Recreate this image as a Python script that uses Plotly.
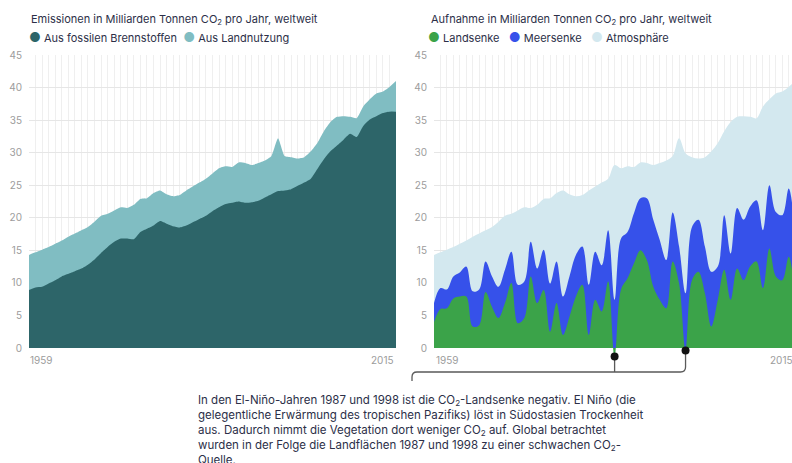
import plotly.graph_objects as go

W, H = 792, 463

years = list(range(1959, 2016))

# Emissionen (Gt CO2)
fossil = [8.9, 9.3, 9.4, 9.9, 10.4, 11.0, 11.4, 11.8, 12.2, 12.8,
          13.6, 14.6, 15.5, 16.3, 16.8, 16.8, 16.7, 17.8, 18.3, 18.8,
          19.5, 19.1, 18.7, 18.5, 18.8, 19.3, 19.8, 20.3, 21.0, 21.6,
          22.1, 22.3, 22.5, 22.3, 22.4, 22.6, 23.1, 23.6, 24.1, 24.2,
          24.4, 24.9, 25.4, 26.0, 27.5, 29.0, 30.2, 31.1, 32.0, 32.9,
          32.4, 34.1, 35.1, 35.6, 36.1, 36.3, 36.3]
landuse = [5.4, 5.4, 5.7, 5.6, 5.6, 5.5, 5.7, 5.8, 5.9, 5.8,
           5.8, 5.7, 5.1, 4.8, 4.8, 4.7, 5.3, 5.1, 4.7, 5.0,
           4.7, 4.5, 4.6, 5.0, 5.4, 5.5, 5.6, 5.7, 5.8, 6.0,
           5.8, 5.5, 6.0, 6.1, 5.7, 5.8, 5.7, 5.9, 8.1, 5.3,
           4.9, 4.2, 3.9, 4.2, 4.0, 4.3, 4.5, 4.4, 3.6, 2.6,
           2.9, 3.0, 3.1, 3.5, 3.3, 3.8, 4.7]

# Aufnahme (Gt CO2)
land_sink = [4.0, 6.0, 6.1, 7.6, 7.9, 7.9, 3.3, 3.5, 8.6, 6.3,
             4.6, 6.9, 10.0, 3.8, 4.6, 11.0, 6.9, 8.9, 2.5, 6.9,
             2.0, 4.8, 7.9, 9.7, 2.0, 7.4, 5.6, 10.2, -1.3, 9.0,
             10.7, 13.0, 15.0, 13.5, 9.4, 7.4, 6.1, 13.3, 9.9, -0.4,
             10.4, 11.7, 8.4, 3.3, 7.4, 12.0, 7.4, 12.2, 10.4, 12.5,
             13.3, 9.2, 15.3, 11.0, 10.4, 14.0, 8.0]
ocean_sink = [2.9, 3.2, 2.9, 3.4, 3.7, 4.6, 5.4, 5.5, 4.7, 4.7,
              4.8, 5.1, 4.8, 5.9, 5.6, 5.3, 5.3, 6.2, 7.4, 6.4,
              5.9, 6.2, 6.4, 5.9, 7.7, 7.4, 7.1, 7.9, 7.4, 7.8,
              7.1, 7.7, 8.0, 9.5, 10.3, 9.2, 7.4, 7.5, 5.7, 8.4,
              8.2, 8.0, 7.2, 8.4, 5.1, 8.4, 7.1, 9.3, 9.3, 9.2,
              9.4, 8.9, 9.7, 9.9, 10.0, 10.5, 9.5]
atmosphere = [7.4, 5.5, 6.1, 4.5, 4.4, 4.0, 8.4, 8.6, 4.8, 7.6,
              10.0, 8.3, 5.8, 11.4, 11.4, 5.2, 9.8, 7.8, 13.1, 10.5,
              16.3, 12.6, 9.0, 7.9, 14.5, 10.0, 12.7, 7.9, 20.7, 10.8,
              10.1, 7.1, 5.5, 5.4, 8.4, 11.8, 15.3, 8.7, 16.6, 21.5,
              10.7, 9.4, 13.7, 18.5, 19.0, 12.9, 20.2, 14.0, 15.9, 13.8,
              12.6, 19.0, 13.2, 18.2, 19.0, 15.6, 23.5]

el_nino_years = [1987, 1998]

C_FOSSIL = '#2d6569'
C_LANDUSE = '#80bdc2'
C_LAND = '#3ba349'
C_OCEAN = '#3651ea'
C_ATM = '#d3e8ef'
C_TEXT = '#2c2f48'
C_TICK = '#9c9c9c'
FONT = 'Inter, Roboto, sans-serif'

# pixel geometry of both panels
L0, L1 = 29, 396
R0, PX_YR_R = 434, 6.45
Y_TOP, Y_ZERO, Y_LOW = 55, 348, 360
UNIT = (Y_ZERO - Y_TOP) / 45


def px(x):
    return x / W


def py(y):
    return 1 - y / H


def right_x(year):
    return R0 + (year - 1959) * PX_YR_R


def y_px(v):
    return Y_ZERO - v * UNIT


total = [f + l for f, l in zip(fossil, landuse)]
land_pos = [max(v, 0) for v in land_sink]
ocean_top = [p + o for p, o in zip(land_pos, ocean_sink)]
atm_top = [t + a for t, a in zip(ocean_top, atmosphere)]

fig = go.Figure()

line_l = dict(width=0, shape='spline', smoothing=0.5)
line_r = dict(width=0, shape='spline', smoothing=1.0)
fig.add_trace(go.Scatter(x=years, y=total, fill='tozeroy', fillcolor=C_LANDUSE, line=dict(line_l, color=C_LANDUSE),
                         mode='lines', name='Aus Landnutzung', xaxis='x', yaxis='y'))
fig.add_trace(go.Scatter(x=years, y=fossil, fill='tozeroy', fillcolor=C_FOSSIL, line=dict(line_l, color=C_FOSSIL),
                         mode='lines', name='Aus fossilen Brennstoffen', xaxis='x', yaxis='y'))

fig.add_trace(go.Scatter(x=years, y=atm_top, fill='tozeroy', fillcolor=C_ATM, line=dict(line_r, color=C_ATM),
                         mode='lines', name='Atmosphäre', xaxis='x2', yaxis='y2'))
fig.add_trace(go.Scatter(x=years, y=ocean_top, fill='tozeroy', fillcolor=C_OCEAN, line=dict(line_r, color=C_OCEAN),
                         mode='lines', name='Meersenke', xaxis='x2', yaxis='y2'))
# land sink on an invisible twin subplot reaching a little below zero, so the
# negative El-Niño years stay visible under the baseline
fig.add_trace(go.Scatter(x=years, y=land_sink, fill='tozeroy', fillcolor=C_LAND, line=dict(line_r, color=C_LAND),
                         mode='lines', name='Landsenke', xaxis='x3', yaxis='y3'))

nino_vals = [land_sink[years.index(y)] for y in el_nino_years]

ydom = [py(Y_ZERO), py(Y_TOP)]
xrange_r = [1959, 1959 + (W - R0) / PX_YR_R]
xgrid = dict(showgrid=True, gridcolor='#efefef', gridwidth=1, dtick=1, tick0=1959, automargin=False,
             showticklabels=False, zeroline=False, ticks='', showline=False)
ygrid = dict(range=[0, 45], dtick=5, showgrid=True, gridcolor='#e6e6e6', zeroline=False, ticks='',
             automargin=False, tickfont=dict(size=10, color=C_TICK, family=FONT), ticklabelstandoff=6)

fig.update_layout(
    width=W, height=H,
    margin=dict(l=0, r=0, t=0, b=0, pad=0, autoexpand=False),
    paper_bgcolor='white', plot_bgcolor='rgba(0,0,0,0)',
    showlegend=False,
    font=dict(family=FONT, size=11, color=C_TEXT),
    xaxis=dict(xgrid, domain=[px(L0), px(L1)], range=[1959, 2015]),
    yaxis=dict(ygrid, domain=ydom),
    xaxis2=dict(xgrid, domain=[px(R0), 1], range=xrange_r, anchor='y2'),
    yaxis2=dict(ygrid, domain=ydom, anchor='x2'),
    xaxis3=dict(domain=[px(R0), 1], range=xrange_r, visible=False, anchor='y3', automargin=False),
    yaxis3=dict(domain=[py(Y_LOW), py(Y_TOP)], range=[-(Y_LOW - Y_ZERO) / UNIT, 45],
                visible=False, anchor='x3', automargin=False),
)

ann = []
# titles
ann.append(dict(text='Emissionen in Milliarden Tonnen CO<sub>2</sub> pro Jahr, weltweit',
                x=px(29), y=py(19), xanchor='left', yanchor='middle'))
ann.append(dict(text='Aufnahme in Milliarden Tonnen CO<sub>2</sub> pro Jahr, weltweit',
                x=px(429), y=py(19), xanchor='left', yanchor='middle'))


def dot(c):
    return f'<span style="color:{c};font-size:13px">●</span>'


ann.append(dict(text=f'{dot(C_FOSSIL)} Aus fossilen Brennstoffen  {dot(C_LANDUSE)} Aus Landnutzung',
                x=px(27), y=py(37), xanchor='left', yanchor='middle'))
ann.append(dict(text=f'{dot(C_LAND)} Landsenke   {dot(C_OCEAN)} Meersenke   {dot(C_ATM)} Atmosphäre',
                x=px(426), y=py(37), xanchor='left', yanchor='middle'))

# x tick labels at the panel edges
tick = dict(font=dict(size=10, color=C_TICK, family=FONT), y=py(360), yanchor='middle')
ann.append(dict(tick, text='1959', x=px(L0 - 1), xanchor='left'))
ann.append(dict(tick, text='2015', x=px(L1), xanchor='right'))
ann.append(dict(tick, text='1959', x=px(right_x(1959)), xanchor='left'))
ann.append(dict(tick, text='2015', x=px(right_x(2015)), xanchor='right'))

ann.append(dict(
    text=('In den El-Niño-Jahren 1987 und 1998 ist die CO<sub>2</sub>-Landsenke negativ. El Niño (die<br>'
          'gelegentliche Erwärmung des tropischen Pazifiks) löst in Südostasien Trockenheit<br>'
          'aus. Dadurch nimmt die Vegetation dort weniger CO<sub>2</sub> auf. Global betrachtet<br>'
          'wurden in der Folge die Landflächen 1987 und 1998 zu einer schwachen CO<sub>2</sub>-<br>'
          'Quelle.'),
    font=dict(size=11.5), x=px(196), y=py(391), xanchor='left', yanchor='top', align='left'))

for a in ann:
    a.setdefault('xref', 'paper')
    a.setdefault('yref', 'paper')
    a.setdefault('showarrow', False)
fig.update_layout(annotations=ann)

# bracket linking the El-Niño markers to the note
xa, xb = right_x(el_nino_years[0]), right_x(el_nino_years[1])
ya, yb = y_px(nino_vals[0]), y_px(nino_vals[1])
yl, xl, r = 372, 412, 5
path = (f'M {px(xl)},{py(381)} L {px(xl)},{py(yl + r)} Q {px(xl)},{py(yl)} {px(xl + r)},{py(yl)} '
        f'L {px(xb - r)},{py(yl)} Q {px(xb)},{py(yl)} {px(xb)},{py(yl - r)} L {px(xb)},{py(yb)} '
        f'M {px(xa)},{py(ya)} L {px(xa)},{py(yl)}')
fig.add_shape(type='path', path=path, xref='paper', yref='paper', layer='below',
              line=dict(color='#5a5a5a', width=1.3))

fig.add_trace(go.Scatter(x=el_nino_years, y=nino_vals, mode='markers', cliponaxis=False,
                         marker=dict(size=8, color='#111111'), xaxis='x3', yaxis='y3'))

fig.write_html('out.html', config={'displayModeBar': False},
               post_script="document.body.style.margin='0';")
